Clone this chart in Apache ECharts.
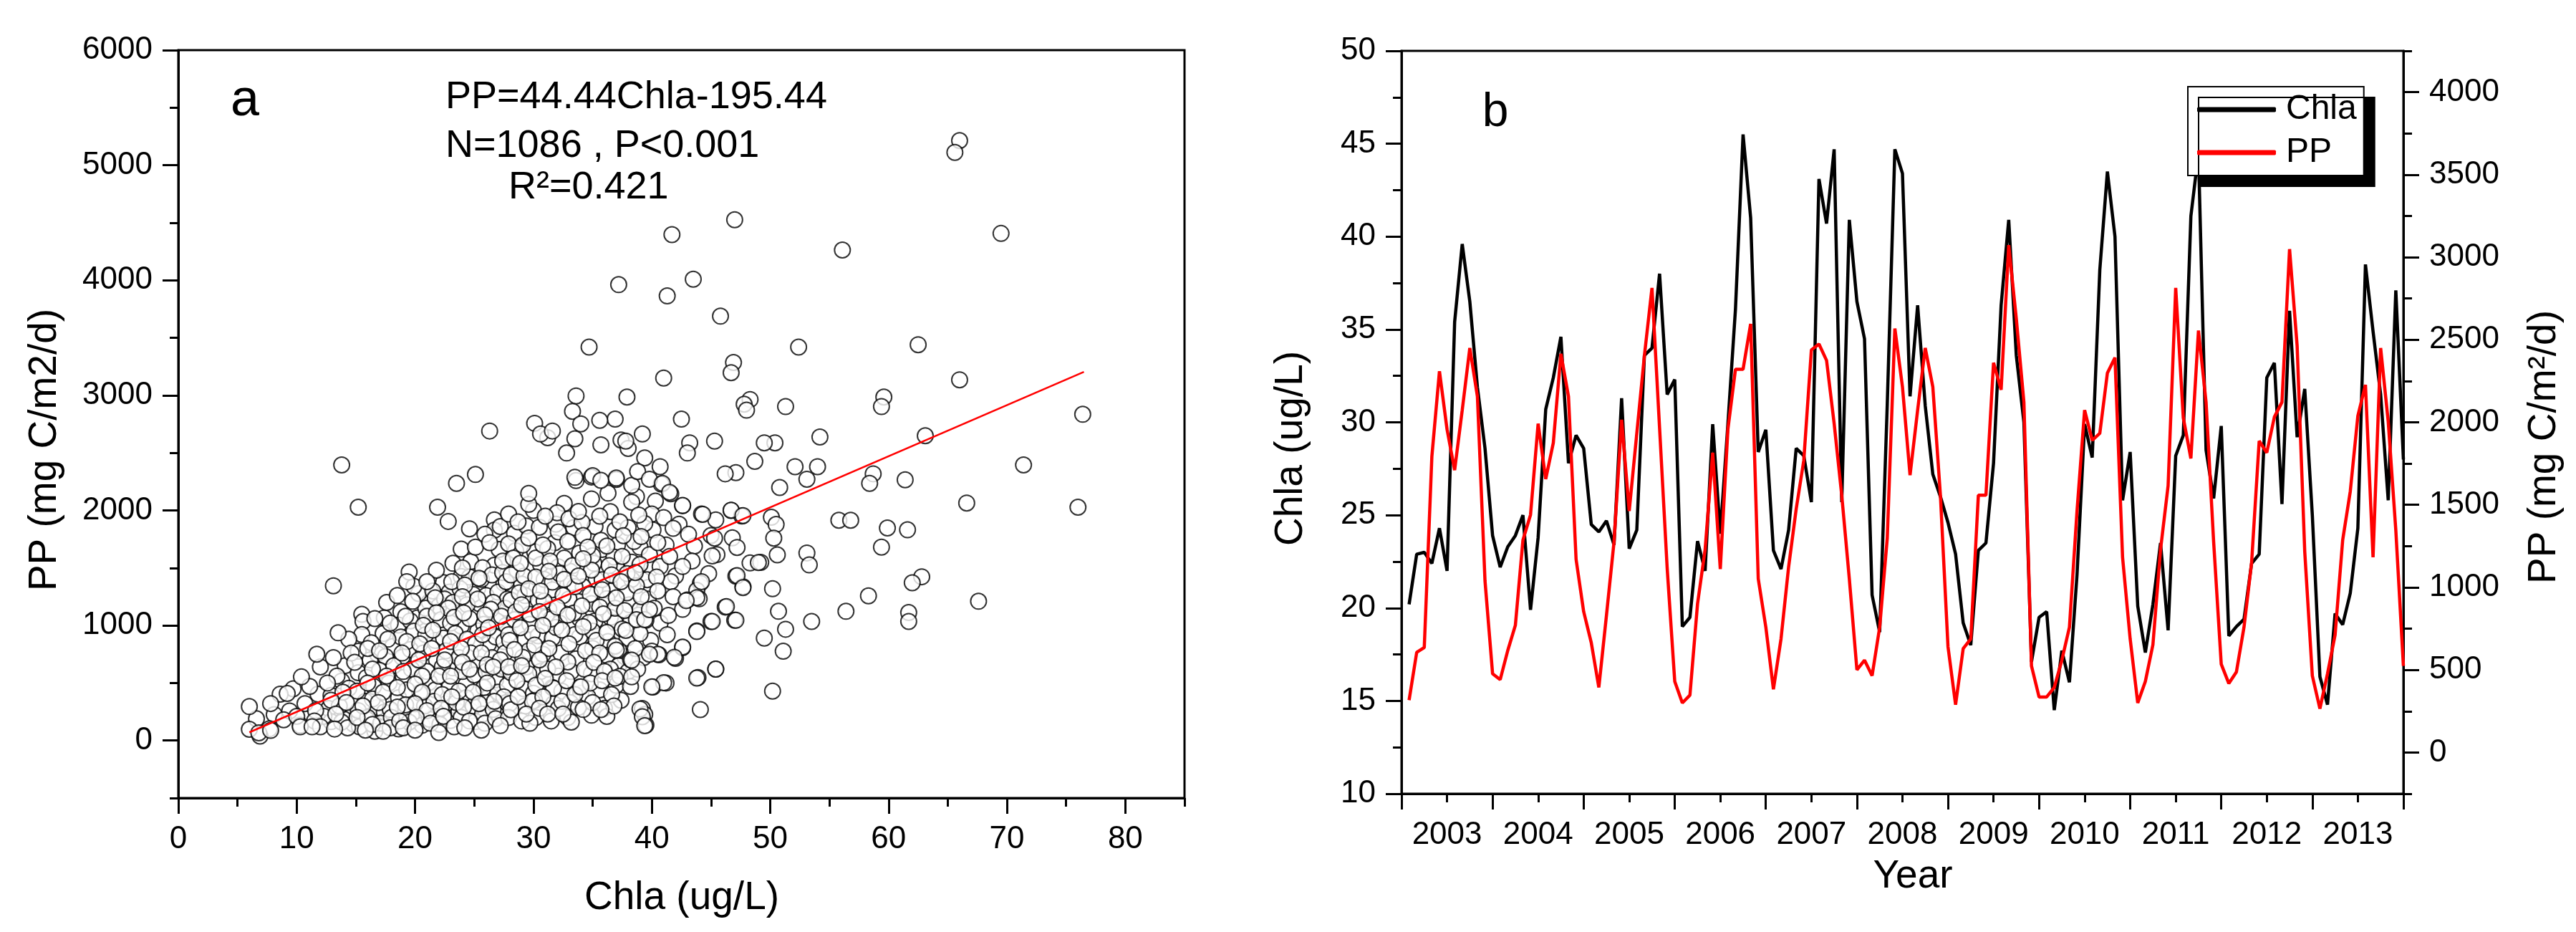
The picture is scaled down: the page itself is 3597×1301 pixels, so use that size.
<!DOCTYPE html>
<html>
<head>
<meta charset="utf-8">
<script src="https://cdn.jsdelivr.net/npm/echarts@6.0.0/dist/echarts.min.js"></script>
<style>
html, body { margin: 0; padding: 0; background: #fff; }
#chart { width: 3597px; height: 1301px; }
</style>
</head>
<body>
<div id="chart"></div>
<script>
const FONT = '"Liberation Sans", Arial, sans-serif';

// ---- panel a: PP vs Chla scatter ----
const scatterOutliers = [
    [66.0,5214],[65.6,5111],[47.0,4526],[41.7,4397],[69.5,4407],[56.1,4263],[37.2,3962],[43.5,4009],[41.3,3864],[45.8,3688],
    [34.7,3419],[52.4,3419],[62.5,3440],[41.0,3150],[66.0,3135],[46.9,3285],[46.7,3197],[76.4,2835],[71.4,2395],[66.6,2064],
    [76.0,2028],[67.6,1210],[62.8,1423],[62.0,1371],[61.7,1112],[61.7,1035],[58.3,1257],[56.4,1123],[59.6,2985],[59.4,2902],
    [63.1,2649],[58.7,2318],[58.4,2235],[61.4,2266],[59.9,1847],[61.6,1831],[59.4,1681],[55.8,1914],[56.8,1914],[54.2,2638],
    [54.0,2380],[52.1,2380],[53.1,2271],[51.3,2902],[50.8,2199],[48.3,2964],[47.8,2923],[48.0,2871],[50.4,2587],[49.5,2587],
    [48.7,2426],[47.1,2328],[46.2,2318],[45.3,2602],[43.2,2587],[43.0,2499],[42.5,2793],[39.2,2664],[37.8,2602],[36.9,2793],
    [35.6,2783],[37.9,2985],[33.6,2995],[33.3,2861],[34.0,2752],[30.1,2757],[30.6,2664],[31.6,2690],[33.5,2623],[32.8,2499],
    [26.3,2690],[25.1,2312],[23.5,2235],[21.9,2028],[22.8,1904],[13.8,2395],[15.2,2028],[13.1,1345],[13.5,936],[11.7,750],
    [10.4,553],[6.0,295],[6.0,98],[6.8,67],[7.8,88],[7.8,321],[9.2,409],[10.3,119],[11.3,119],[19.5,1464],
    [19.3,1381],[29.6,2147],[33.5,2287],[35.0,2302],[35.7,2261],[37.0,2281],[38.8,2338],[39.8,2271],[40.7,2380],[40.9,2235],
    [41.5,2157],[42.6,2043],[44.3,1966],[46.7,2002],[47.7,1955],[50.1,1940],[50.5,1878],[50.3,1759],[50.6,1614],[50.2,1319],
    [49.0,1547],[53.1,1630],[53.3,1526],[53.5,1035],[50.7,1123],[51.3,967],[51.1,776],[49.5,890],[50.2,429],[47.2,1433],
    [47.7,1329],[46.3,1164],[47.1,1045],[45.1,1035],[45.4,621],[43.8,543],[44.1,269],[43.8,947],[44.2,1381],[45.1,1604],
    [45.3,1759],[43.8,1242],[42.9,1216],[42.6,812],[41.9,724],[40.5,750],[39.8,750],[41.0,502],[40.0,466],[39.0,274],
    [39.2,207],[39.4,129],[35.7,269],[34.0,466],[38.3,553],[36.9,543],[38.3,698],[37.0,786],[37.8,957],[38.7,1050],
    [39.4,1050],[39.8,1138]
];

const scatterLow = [
    [24.6,1840],[26.7,1917],[26.7,1828],[25.9,1792],[23.9,1663],[27.1,1661],[24.7,1554],[26.7,1523],[25.7,1502],[22.4,1373],
    [23.9,1425],[25.3,1325],[27.5,1367],[21.2,1205],[20.3,1278],[22.0,1166],[23.6,1108],[25.4,1191],[26.1,1097],[15.5,1097],
    [15.6,1035],[17.4,1066],[18.8,1118],[18.6,1004],[20.2,1066],[23.9,994],[25.3,952],[15.5,921],[18.1,817],[16.8,755],
    [15.2,776],[21.7,869],[26.2,838],[14.1,651],[15.2,589],[18.9,724],[20.2,620],[21.8,703],[23.2,631],[25.4,662],
    [26.8,527],[13.8,517],[15.9,548],[19.0,548],[21.2,506],[24.3,485],[26.3,392],[9.7,450],[8.6,402],[11.8,402],
    [12.9,392],[14.4,454],[15.8,340],[16.8,288],[18.6,371],[20.4,413],[22.6,319],[24.3,371],[26.0,330],[9.4,257],
    [12.7,278],[14.7,216],[15.9,185],[17.7,154],[19.7,216],[21.8,247],[24.7,257],[27.1,216],[6.6,189],[8.1,226],
    [10.3,133],[12.9,164],[14.8,143],[16.6,81],[18.6,101],[20.6,133],[23.0,174],[25.1,164],[7.7,102],[6.9,39],
    [14.0,185],[17.4,247],[19.0,247],[21.2,185],[23.7,247],
    [24.6,1420],[25.6,1400],[26.5,1440],[27.4,1460],[21.5,1300],[22.9,1290],[23.8,1320],[24.9,1270],[26.0,1260],[27.0,1290],
    [27.8,1230],[20.9,1150],[22.5,1230],[23.2,1200],[24.4,1180],[26.6,1200],[27.6,1150],[19.6,1040],[21.0,1080],[22.2,1050],
    [23.0,1020],[24.6,1060],[25.8,1010],[26.9,1040],[27.7,1000],[17.3,930],[18.8,900],[19.9,950],[20.9,920],[22.4,890],
    [23.4,930],[24.4,880],[25.1,840],[26.8,900],[27.5,860],[16.2,700],[17.5,730],[19.6,790],[20.7,760],[22.6,780],
    [23.7,720],[24.7,760],[26.5,720],[27.6,760],[17.0,610],[18.2,650],[19.7,620],[21.0,600],[22.3,640],[24.0,600],
    [25.0,570],[26.0,600],[27.3,620],[15.1,430],[16.5,470],[17.8,500],[19.3,440],[21.7,440],[22.9,470],[25.8,460],
    [27.0,420],[27.8,480],[13.6,300],[15.2,260],[16.4,360],[17.9,270],[19.2,310],[20.8,300],[21.6,340],[23.5,330],
    [24.9,300],[27.7,330],[12.3,210],[13.8,160],[15.3,120],[16.0,200],[17.1,150],[18.0,200],[19.5,160],[22.1,140],
    [23.9,200],[25.7,230],[26.6,270]
];

const scatterHigh = [
    [31.2,2632],[35.7,2570],[37.4,2612],[38.0,2539],[39.4,2456],[33.6,2259],[34.9,2290],[37.0,2269],[38.3,2217],[40.8,2228],
    [41.6,2145],[42.6,2041],[44.2,1968],[45.4,1917],[46.7,2000],[47.6,1952],[29.6,2052],[27.9,1968],[29.4,1865],[32.0,1979],
    [33.0,1927],[34.1,1896],[36.5,1989],[38.3,2072],[40.0,1968],[41.0,1937],[41.8,1844],[43.1,1792],[45.0,1782],[46.8,1761],
    [47.2,1678],[48.3,1543],[49.2,1549],[45.5,1616],[44.8,1450],[47.1,1429],[47.7,1336],[44.1,1367],[43.8,1305],[43.0,1222],
    [44.0,1232],[46.2,1160],[41.4,1087],[45.0,1035],[47.0,1045],[43.8,952],[40.0,776],[40.6,745],[42.0,714],[42.6,807],
    [45.4,620],[43.9,548],[40.1,465],[41.2,500],[39.2,278],[39.4,227],[39.5,133],[33.8,288],[27.9,1709],[29.1,1699],
    [31.2,1668],[32.6,1585],[35.0,1606],[36.8,1595],[38.5,1730],[39.8,1616],[40.7,1512],[42.6,1512],[39.6,1398],[37.9,1284],
    [36.2,1232],[34.2,1336],[33.5,1336],[31.6,1377],[28.8,1284],[28.1,1440],[29.2,1429],[30.9,1212],[33.4,1108],[34.7,1025],
    [36.9,1025],[38.2,1025],[39.5,1045],[29.9,932],[31.9,983],[33.5,921],[35.3,869],[37.2,786],[38.2,703],[36.5,620],
    [37.3,558],[28.0,869],[29.1,724],[27.9,641],[29.6,579],[31.2,620],[32.9,683],[33.9,465],[31.7,454],[29.9,340],
    [28.1,268],[32.1,278],[39.4,1886],[39.1,1772],[35.7,1740],[34.2,1782],[32.1,1813],[30.5,1854],[28.3,1585],[30.2,1585],
    [32.2,1450],[35.8,1398],[37.9,1450],[34.9,1481],[38.7,1346],[29.7,1097],[28.5,1118],[31.5,1056],[35.6,1160],[39.0,1139],
    [36.9,1150],
    [28.7,1900],[31.0,1950],[33.8,1990],[35.6,1950],[37.3,1900],[38.9,1960],[29.6,1760],[30.8,1700],[32.9,1730],[34.6,1680],
    [36.2,1690],[37.6,1780],[40.5,1720],[28.9,1540],[31.4,1560],[33.3,1520],[34.2,1580],[36.4,1520],[37.5,1600],[39.0,1530],
    [41.5,1600],[30.2,1420],[31.3,1470],[32.6,1400],[33.8,1430],[36.6,1440],[37.4,1380],[38.6,1460],[40.4,1420],[29.6,1320],
    [30.6,1300],[32.5,1260],[34.8,1270],[35.8,1310],[37.0,1240],[39.1,1250],[40.5,1300],[29.0,1180],[30.5,1120],[32.0,1160],
    [32.9,1090],[34.1,1170],[35.9,1100],[37.7,1130],[40.2,1150],[28.9,980],[30.8,1000],[32.4,960],[34.2,990],[36.2,940],
    [37.5,970],[39.0,930],[28.4,790],[30.1,830],[31.3,800],[33.0,840],[34.4,780],[35.6,760],[36.9,820],[38.6,800],
    [29.0,650],[30.5,700],[31.9,640],[34.3,620],[35.1,680],[36.0,600],[38.8,620],[28.6,520],[30.2,480],[31.0,540],
    [32.8,520],[34.8,500],[35.8,520],[38.2,470],[28.7,380],[30.8,380],[32.4,340],[33.5,400],[35.0,330],[36.6,400],
    [29.4,230],[30.5,280],[31.2,230],[32.5,230],[34.2,270],[36.8,300]
];

// second pass over the packed middle of the cloud
const scatterCore = [
    [30.0,2000],[32.6,2060],[34.9,2100],[36.3,2150],[38.7,2120],[40.3,2080],
    [27.2,1860],[28.4,1800],[31.9,1880],[33.4,1850],[35.2,1860],[36.9,1830],[38.0,1850],[40.1,1830],[42.3,1880],
    [25.1,1680],[26.3,1720],[28.5,1650],[30.1,1640],[31.8,1720],[33.9,1630],[35.8,1660],[37.1,1700],[39.0,1680],[41.2,1700],[43.6,1690],
    [21.8,1480],[23.2,1540],[24.0,1500],[27.4,1560],[28.6,1480],[30.6,1530],[32.1,1510],[33.1,1470],[35.1,1540],[37.0,1510],
    [38.3,1550],[40.0,1500],[42.0,1430],[43.4,1560],
    [19.9,1340],[21.0,1380],[23.1,1380],[24.2,1350],[25.4,1410],[27.7,1380],[29.0,1360],[30.9,1400],[31.6,1310],[33.2,1370],
    [35.3,1400],[36.4,1360],[38.3,1400],[39.7,1330],[41.6,1380],
    [17.6,1200],[18.5,1260],[19.8,1210],[21.7,1240],[22.8,1150],[24.0,1250],[25.3,1230],[26.4,1140],[28.1,1220],[29.3,1260],
    [30.4,1220],[31.3,1140],[33.0,1230],[34.9,1190],[36.5,1300],[38.1,1180],[39.7,1230],[41.8,1250],[42.6,1140],
    [16.6,1060],[17.9,1020],[19.2,1080],[20.7,1000],[21.8,1110],[23.3,1070],[24.1,1110],[25.9,1090],[27.3,1080],[28.4,1050],
    [29.7,1010],[31.1,1070],[32.2,1020],[33.9,1060],[35.2,1040],[36.5,1070],[38.9,1090],[40.7,1020],
    [14.4,880],[16.3,850],[17.7,880],[19.3,860],[20.4,840],[21.5,960],[23.0,860],[23.9,800],[25.7,920],[26.2,980],
    [27.9,920],[29.3,880],[30.4,910],[31.6,890],[33.9,900],[35.0,950],[36.3,860],[37.9,890],[39.9,870],[41.3,920],
    [13.1,720],[14.6,760],[16.0,800],[17.0,780],[18.9,760],[20.3,700],[21.4,800],[22.5,700],[24.0,680],[25.6,760],
    [26.1,660],[27.2,700],[29.6,780],[30.8,750],[32.3,760],[33.6,710],[35.0,800],[36.2,740],[37.7,730],[39.3,720],
    [12.0,640],[13.4,560],[14.9,680],[16.4,620],[17.6,560],[19.0,600],[20.6,560],[22.0,560],[23.0,560],[24.6,620],
    [26.6,640],[28.1,590],[29.4,640],[30.6,600],[32.1,560],[33.2,600],[34.9,580],[37.2,650],[38.0,600],
    [11.1,470],[12.6,500],[13.9,420],[16.0,500],[17.3,420],[18.5,460],[20.0,490],[20.6,420],[22.3,400],[23.7,430],
    [24.9,420],[26.1,500],[27.5,380],[29.2,450],[30.0,410],[31.6,460],[32.4,430],[34.0,410],[35.6,440],[37.0,480],
    [10.7,320],[11.6,260],[12.9,350],[14.2,330],[15.6,300],[16.9,330],[18.5,290],[20.0,320],[21.0,260],[22.2,280],
    [23.1,380],[24.1,290],[25.4,320],[26.7,340],[28.0,320],[29.3,300],[30.1,350],[31.7,320],[33.1,330],[34.6,380],
    [36.0,280],[37.4,350],
    [8.9,180],[10.0,210],[11.5,170],[12.0,120],[13.3,230],[14.3,110],[15.1,200],[16.4,140],[17.9,110],[18.7,170],
    [20.1,200],[21.3,150],[22.4,210],[23.3,120],[24.6,170],[25.9,150],[26.8,190],[27.9,200],[29.0,170],[30.2,200],
    [31.5,170],[32.9,200],[34.9,220],[36.2,210],
    [13.2,100],[15.8,90],[17.3,80],[19.0,110],[20.0,90],[22.0,70],[24.2,110],[25.6,90],[27.2,130],[29.7,150],[33.2,160]
];

// fit from the annotation: PP = 44.44 Chla - 195.44
const fitSlope = 44.44;
const fitIntercept = -195.44;
const fitChlaRange = [6, 76.5];

const xTicksA = [0, 10, 20, 30, 40, 50, 60, 70, 80];
const xMinorA = [5, 15, 25, 35, 45, 55, 65, 75, 85];
const yTicksA = [0, 1000, 2000, 3000, 4000, 5000, 6000];
const yMinorA = [-500, 500, 1500, 2500, 3500, 4500, 5500];

// ---- panel b: monthly series 2003-2013 ----
const startYear = 2003;
const chlaMonthly = [
    20.2, 22.9, 23.0, 22.4, 24.3, 22.0, 35.4, 39.6, 36.5, 31.9, 28.6, 23.9,
    22.2, 23.3, 23.9, 25.0, 19.9, 23.8, 30.7, 32.4, 34.6, 27.8, 29.3, 28.6,
    24.5, 24.1, 24.7, 23.4, 31.3, 23.2, 24.2, 33.6, 34.0, 38.0, 31.5, 32.3,
    19.0, 19.5, 23.6, 22.0, 29.9, 24.0, 29.9, 36.1, 45.5, 41.0, 28.4, 29.6,
    23.1, 22.1, 24.2, 28.6, 28.2, 25.7, 43.1, 40.7, 44.7, 25.7, 40.9, 36.5,
    34.5, 20.7, 18.7, 31.0, 44.7, 43.4, 31.4, 36.3, 30.9, 27.2, 26.0, 24.6,
    22.9, 19.2, 18.0, 23.1, 23.5, 27.8, 36.3, 40.9, 33.6, 30.0, 17.1, 19.5,
    19.8, 14.5, 17.7, 16.0, 21.8, 29.9, 28.1, 38.2, 43.5, 40.0, 25.8, 28.4,
    20.1, 17.6, 20.2, 23.5, 18.8, 28.2, 29.3, 41.1, 44.5, 28.5, 25.9, 29.8,
    18.5, 19.0, 19.4, 22.4, 22.9, 32.4, 33.2, 25.6, 36.0, 29.2, 31.8, 25.0,
    16.3, 14.8, 19.7, 19.1, 20.8, 24.3, 38.5, 34.9, 31.5, 25.8, 37.1, 28.0
];
const ppMonthly = [
    317, 606, 636, 1793, 2309, 1957, 1710, 2074, 2450, 2157, 1040, 477,
    441, 618, 770, 1287, 1440, 1992, 1656, 1875, 2415, 2157, 1170, 853,
    665, 394, 829, 1275, 2016, 1463, 1933, 2403, 2814, 1966, 1118, 430,
    300, 347, 900, 1229, 1816, 1111, 1957, 2321, 2321, 2596, 1052, 759,
    383, 688, 1123, 1475, 1769, 2438, 2474, 2375, 1992, 1558, 1052, 500,
    559, 465, 759, 1299, 2568, 2215, 1680, 2074, 2450, 2215, 1558, 641,
    289, 629, 688, 1558, 1558, 2361, 2197, 3073, 2627, 2122, 524, 336,
    336, 394, 559, 759, 1463, 2074, 1891, 1933, 2298, 2392, 1182, 688,
    300, 430, 653, 1229, 1616, 2814, 2027, 1781, 2556, 2122, 1275, 535,
    418, 488, 759, 1150, 1887, 1816, 2032, 2122, 3049, 2462, 1217, 465,
    265, 477, 712, 1287, 1581, 2039, 2227, 1182, 2450, 2004, 1346, 524
];

const yearTicks = [2003, 2004, 2005, 2006, 2007, 2008, 2009, 2010, 2011, 2012, 2013, 2014];
const yearLabelPos = [2003.5, 2004.5, 2005.5, 2006.5, 2007.5, 2008.5, 2009.5, 2010.5, 2011.5, 2012.5, 2013.5];
const chlaTicksB = [10, 15, 20, 25, 30, 35, 40, 45, 50];
const chlaMinorB = [12.5, 17.5, 22.5, 27.5, 32.5, 37.5, 42.5, 47.5];
const ppTicksB = [0, 500, 1000, 1500, 2000, 2500, 3000, 3500, 4000];
const ppMinorB = [-250, 250, 750, 1250, 1750, 2250, 2750, 3250, 3750, 4250];

function majorAxis(extra) {
    return Object.assign({
        type: 'value',
        axisLine: { show: true, onZero: false, lineStyle: { color: '#000', width: 3 } },
        axisTick: { show: true, inside: false, length: 22, lineStyle: { color: '#000', width: 3 } },
        axisLabel: { show: true, color: '#000', fontSize: 44, fontFamily: FONT, margin: 36, formatter: (v) => String(v) },
        splitLine: { show: false }
    }, extra);
}

function minorAxis(extra, values) {
    return Object.assign({
        type: 'value',
        axisLine: { show: false, onZero: false },
        axisTick: { show: true, inside: false, length: 12, customValues: values, lineStyle: { color: '#000', width: 3 } },
        axisLabel: { show: false },
        splitLine: { show: false }
    }, extra);
}

function withCustom(axis, tickValues, labelValues, formatter) {
    axis.axisTick.customValues = tickValues;
    axis.axisLabel.customValues = labelValues;
    if (formatter) axis.axisLabel.formatter = formatter;
    return axis;
}

function text(str, x, y, size, opts) {
    const el = {
        type: 'text',
        x: x,
        y: y,
        z: 100,
        style: {
            text: str,
            fill: '#000',
            fontSize: size,
            fontFamily: FONT,
            align: (opts && opts.align) || 'center',
            verticalAlign: 'middle'
        }
    };
    if (opts && opts.rotation) el.rotation = opts.rotation;
    return el;
}

const chart = echarts.init(document.getElementById('chart'), null, { renderer: 'canvas' });

const monthX = (i) => startYear + (i + 1) / 12;

const option = {
    animation: false,
    backgroundColor: '#fff',
    grid: [
        { left: 249, top: 70, width: 1405, height: 1044, show: true, borderColor: '#000', borderWidth: 3, backgroundColor: 'transparent' },
        { left: 1957, top: 71, width: 1399, height: 1037, show: true, borderColor: '#000', borderWidth: 3, backgroundColor: 'transparent' }
    ],
    xAxis: [
        withCustom(majorAxis({ gridIndex: 0, position: 'bottom', min: 0, max: 85 }), xTicksA, xTicksA),
        minorAxis({ gridIndex: 0, position: 'bottom', min: 0, max: 85 }, xMinorA),
        withCustom(majorAxis({ gridIndex: 1, position: 'bottom', min: 2003, max: 2014 }), yearTicks, yearLabelPos,
            (v) => String(Math.floor(v))),
        minorAxis({ gridIndex: 1, position: 'bottom', min: 2003, max: 2014 }, yearLabelPos)
    ],
    yAxis: [
        withCustom(majorAxis({ gridIndex: 0, position: 'left', min: -500, max: 6000 }), yTicksA, yTicksA),
        minorAxis({ gridIndex: 0, position: 'left', min: -500, max: 6000 }, yMinorA),
        withCustom(majorAxis({ gridIndex: 1, position: 'left', min: 10, max: 50 }), chlaTicksB, chlaTicksB),
        minorAxis({ gridIndex: 1, position: 'left', min: 10, max: 50 }, chlaMinorB),
        withCustom(majorAxis({ gridIndex: 1, position: 'right', min: -250, max: 4250 }), ppTicksB, ppTicksB),
        minorAxis({ gridIndex: 1, position: 'right', min: -250, max: 4250 }, ppMinorB)
    ],
    legend: {
        data: [{ name: 'Chla', icon: 'roundRect' }, { name: 'PP', icon: 'roundRect' }],
        orient: 'vertical',
        left: 3055,
        top: 121,
        itemWidth: 110,
        itemHeight: 7,
        itemGap: 12,
        padding: [8, 10, 8, 13],
        backgroundColor: '#fff',
        borderColor: '#000',
        borderWidth: 2,
        borderRadius: 0,
        shadowColor: '#000',
        shadowBlur: 0,
        shadowOffsetX: 15,
        shadowOffsetY: 15,
        selectedMode: false,
        textStyle: { color: '#000', fontSize: 48, fontFamily: FONT, padding: [0, 0, 0, 9] },
        z: 10
    },
    series: [
        {
            name: 'obs',
            type: 'scatter',
            xAxisIndex: 0,
            yAxisIndex: 0,
            symbol: 'circle',
            symbolSize: 22,
            itemStyle: { color: '#fff', borderColor: '#000', borderWidth: 2 },
            data: scatterLow.concat(scatterCore, scatterHigh, scatterOutliers),
            z: 2
        },
        {
            name: 'fit',
            type: 'line',
            xAxisIndex: 0,
            yAxisIndex: 0,
            showSymbol: false,
            data: fitChlaRange.map((c) => [c, fitSlope * c + fitIntercept]),
            lineStyle: { color: '#ff0000', width: 2.5 },
            z: 3
        },
        {
            name: 'Chla',
            type: 'line',
            xAxisIndex: 2,
            yAxisIndex: 2,
            showSymbol: false,
            color: '#000',
            data: chlaMonthly.map((v, i) => [monthX(i), v]),
            lineStyle: { color: '#000', width: 4.5 },
            z: 3
        },
        {
            name: 'PP',
            type: 'line',
            xAxisIndex: 2,
            yAxisIndex: 4,
            showSymbol: false,
            color: '#ff0000',
            data: ppMonthly.map((v, i) => [monthX(i), v]),
            lineStyle: { color: '#ff0000', width: 4.5 },
            z: 4
        }
    ],
    graphic: [
        text('a', 342, 141, 72),
        text('PP=44.44Chla-195.44', 622, 136, 54, { align: 'left' }),
        text('N=1086 , P<0.001', 622, 204, 54, { align: 'left' }),
        text('R²=0.421', 710, 262, 54, { align: 'left' }),
        text('PP (mg C/m2/d)', 63, 628, 55, { rotation: Math.PI / 2 }),
        text('Chla (ug/L)', 952, 1254, 55),
        text('b', 2088, 158, 66),
        text('Chla (ug/L)', 1803, 626, 55, { rotation: Math.PI / 2 }),
        text('Year', 2671, 1224, 55),
        text('PP (mg C/m²/d)', 3553, 624, 55, { rotation: Math.PI / 2 })
    ]
};

chart.setOption(option);
</script>
</body>
</html>
